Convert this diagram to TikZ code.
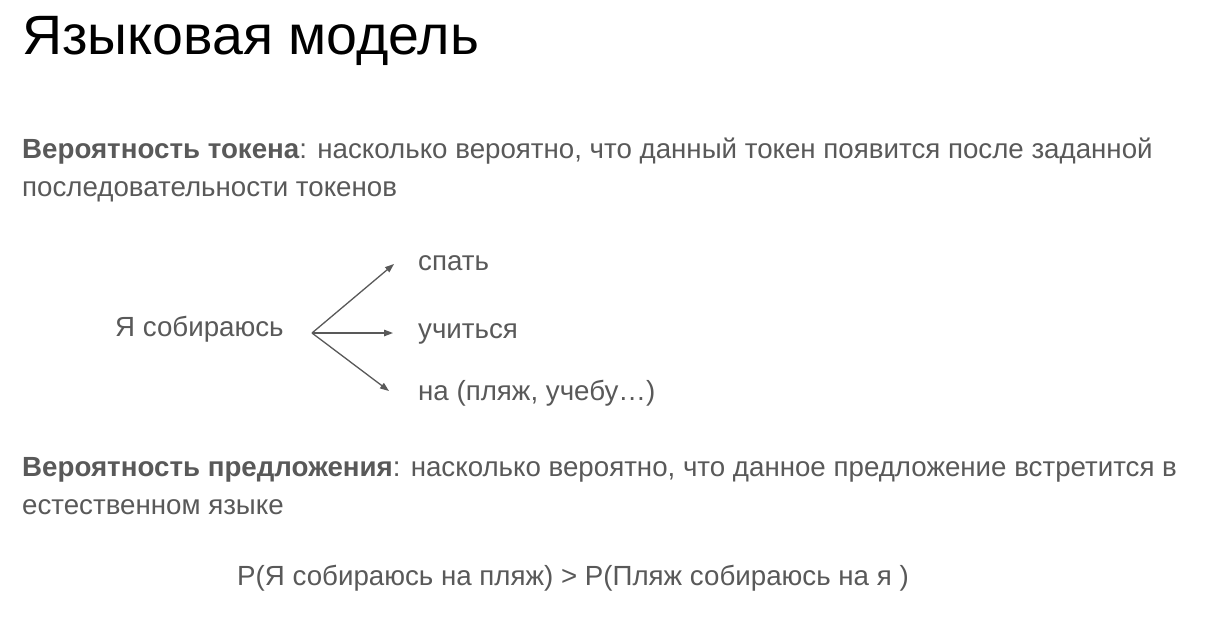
\documentclass[tikz,border=0pt]{standalone}
\usepackage{fontspec}
\setmainfont{Liberation Sans}
\usetikzlibrary{arrows.meta}
\definecolor{txt}{HTML}{595959}
\definecolor{arr}{HTML}{595959}
\tikzset{
  txtnode/.style={anchor=base west, inner sep=0pt, text=txt, font=\fontsize{27.7}{32}\selectfont},
  titlenode/.style={anchor=base west, inner sep=0pt, text=black, font=\fontsize{55.5}{60}\selectfont},
  conn/.style={draw=arr, line width=1.3pt, -{Triangle[length=9pt,width=6.5pt]}}
}
\begin{document}
\begin{tikzpicture}[x=1pt,y=-1pt]
\useasboundingbox[fill=white] (0,0) rectangle (1217,627);
\node[titlenode] (title) at (22,54) {Языковая модель};
\node[txtnode] (l1) at (22,158) {\textbf{Вероятность токена}: насколько вероятно, что данный токен появится после заданной};
\node[txtnode] (l2) at (22,196) {последовательности токенов};
\node[txtnode] (src) at (115,336) {Я собираюсь};
\node[txtnode] (spat) at (418,270) {спать};
\node[txtnode] (uch) at (418,338) {учиться};
\node[txtnode] (na) at (418,400) {на (пляж, учебу…)};
\coordinate (o) at (312,333);
\coordinate (t1) at (394,264);
\coordinate (t2) at (393,333);
\coordinate (t3) at (389,391);
\draw[conn] (o) -- (t1);
\draw[conn] (o) -- (t2);
\draw[conn] (o) -- (t3);
\node[txtnode] (l3) at (22,476) {\textbf{Вероятность предложения}: насколько вероятно, что данное предложение встретится в};
\node[txtnode] (l4) at (22,514) {естественном языке};
\node[txtnode] (f) at (237,585) {P(Я собираюсь на пляж) > P(Пляж собираюсь на я )};
\end{tikzpicture}
\end{document}
